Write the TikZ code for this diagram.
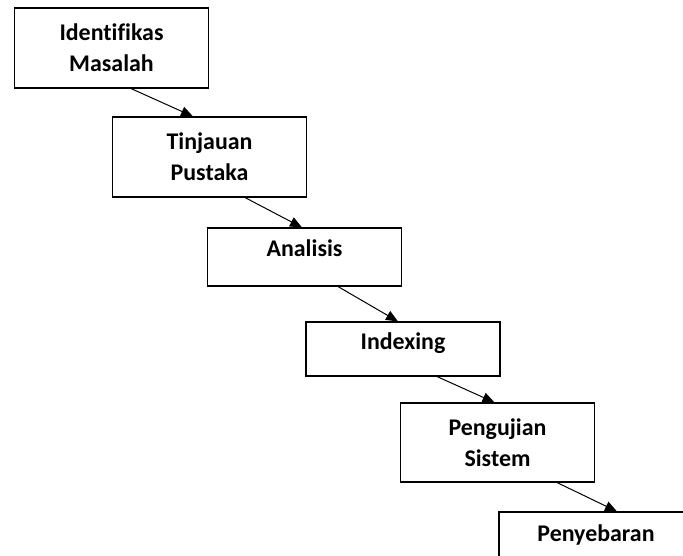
\documentclass[tikz,border=0pt]{standalone}
\usepackage{fontspec}
\setmainfont[Ligatures=NoCommon]{Carlito}
\usetikzlibrary{arrows.meta}

\begin{document}
\begin{tikzpicture}[x=1bp,y=-1bp,
  stage/.style={draw, line width=1.1bp, minimum width=194bp, align=center,
    font=\bfseries\fontsize{24}{31}\selectfont, inner sep=0pt},
  oneline/.style={minimum height=58bp, text height=16bp, text depth=16bp},
  twoline/.style={minimum height=80bp},
  flow/.style={-{Triangle[length=12bp,width=10bp]}, line width=1bp}]
  \useasboundingbox (0,0) rectangle (683,556);
  \clip (0,0) rectangle (683,556);

  \node[stage, twoline] (idm) at (111.5,48) {Identifikas\\Masalah};
  \node[stage, twoline] (tp) at (209.5,157) {Tinjauan\\Pustaka};
  \node[stage, oneline] (an) at (304.5,257) {Analisis};
  \node[stage, oneline, minimum height=54bp] (ix) at (403,349) {Indexing};
  \node[stage, twoline, minimum height=79bp] (ps) at (497.5,442.5) {Pengujian\\Sistem};
  \node[stage, oneline] (pb) at (596,541) {Penyebaran};

  \draw[flow] ([xshift=19.5bp]idm.south) -- ([xshift=-16.5bp]tp.north);
  \draw[flow] ([xshift=35.5bp]tp.south) -- ([xshift=-2.5bp]an.north);
  \draw[flow] ([xshift=33.5bp]an.south) -- ([xshift=-5bp]ix.north);
  \draw[flow] ([xshift=34bp]ix.south) -- ([xshift=-3bp]ps.north);
  \draw[flow] ([xshift=59.5bp]ps.south) -- ([xshift=21bp]pb.north);
\end{tikzpicture}
\end{document}
